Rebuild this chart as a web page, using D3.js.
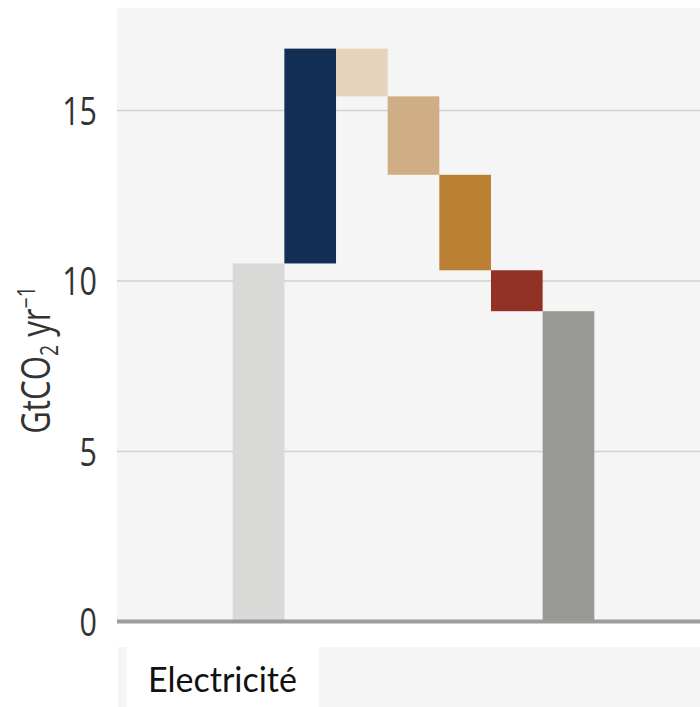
<!DOCTYPE html>
<html>
<head>
<meta charset="utf-8">
<script src="https://cdn.jsdelivr.net/npm/d3@7"></script>
<style>
  html, body { margin: 0; padding: 0; background: #ffffff; }
  svg { display: block; }
</style>
</head>
<body>
<div id="chart"></div>
<script>
// Waterfall of electricity-sector CO2 emissions (GtCO2 per year)
const steps = ["départ", "hausse", "baisse1", "baisse2", "baisse3", "baisse4", "arrivée"];
const startValue = 10.5;
const changes = [6.3, -1.4, -2.3, -2.8, -1.2];
const endValue = 9.1;
const stepColors = ["#d9d9d7", "#132f55", "#e6d3bb", "#cfae85", "#bc8035", "#923226", "#989995"];
const yTicks = [0, 5, 10, 15];
const sectorLabel = "Electricité";

const W = 700, H = 707;
const condensed = 0.78; // horizontal squeeze for the axis lettering
const axisFont = "'Open Sans', sans-serif";
const svg = d3.select("#chart").append("svg").attr("width", W).attr("height", H);

const y = d3.scaleLinear().domain([0, 18]).range([621.5, 7.7]);
const x = d3.scaleBand().domain(steps).range([232.7, 594.3]).padding(0);

// build floating segments
const segs = [];
segs.push({ key: steps[0], y0: 0, y1: startValue });
let run = startValue;
changes.forEach((c, i) => {
  segs.push({ key: steps[i + 1], y0: run, y1: run + c });
  run += c;
});
segs.push({ key: steps[6], y0: 0, y1: endValue });

// plot panel
svg.append("rect").attr("x", 117).attr("y", y(18)).attr("width", W - 117)
  .attr("height", y(0) - y(18)).attr("fill", "#f5f5f5");

// gridlines and tick labels
const yAxis = d3.axisLeft(y).tickValues(yTicks).tickSize(-(W - 117)).tickFormat(d3.format("d"));
const gAxis = svg.append("g").attr("transform", "translate(117,0)").call(yAxis);
gAxis.select(".domain").remove();
gAxis.selectAll(".tick line").attr("stroke", "#d2d2d2").attr("stroke-width", 1.5);
gAxis.selectAll(".tick").filter(d => d === 0).select("line").remove();
gAxis.selectAll(".tick text")
  .attr("font-family", axisFont)
  .attr("font-size", 39).attr("fill", "#333333")
  .attr("text-anchor", "end")
  .attr("transform", `scale(${condensed},1)`)
  .attr("x", -20 / condensed).attr("dy", "0.36em");

// bars
svg.append("g").selectAll("rect").data(segs).join("rect")
  .attr("x", d => x(d.key))
  .attr("width", x.bandwidth())
  .attr("y", d => y(Math.max(d.y0, d.y1)))
  .attr("height", d => Math.abs(y(d.y0) - y(d.y1)))
  .attr("fill", (d, i) => stepColors[i]);

// baseline
svg.append("line").attr("x1", 117).attr("x2", W).attr("y1", y(0)).attr("y2", y(0))
  .attr("stroke", "#9b9b9b").attr("stroke-width", 4);

// y-axis title
const title = svg.append("text")
  .attr("transform", `translate(50,360) rotate(-90) scale(${condensed},1)`)
  .attr("text-anchor", "middle")
  .attr("font-family", axisFont)
  .attr("font-size", 40).attr("fill", "#333333");
title.append("tspan").text("GtCO");
title.append("tspan").attr("font-size", 25).attr("dy", 8).text("2");
title.append("tspan").attr("dy", -8).text(" yr");
title.append("tspan").attr("font-size", 25).attr("dy", -15).text("\u22121");

// category strip
svg.append("rect").attr("x", 118).attr("y", 647).attr("width", W - 118).attr("height", H - 647)
  .attr("fill", "#f5f5f5");
svg.append("rect").attr("x", 127).attr("y", 647).attr("width", 192).attr("height", H - 647)
  .attr("fill", "#ffffff");
svg.append("text").attr("x", 148).attr("y", 692)
  .attr("font-family", "Lato, sans-serif").attr("font-size", 34).attr("fill", "#111111")
  .text(sectorLabel);
</script>
</body>
</html>
